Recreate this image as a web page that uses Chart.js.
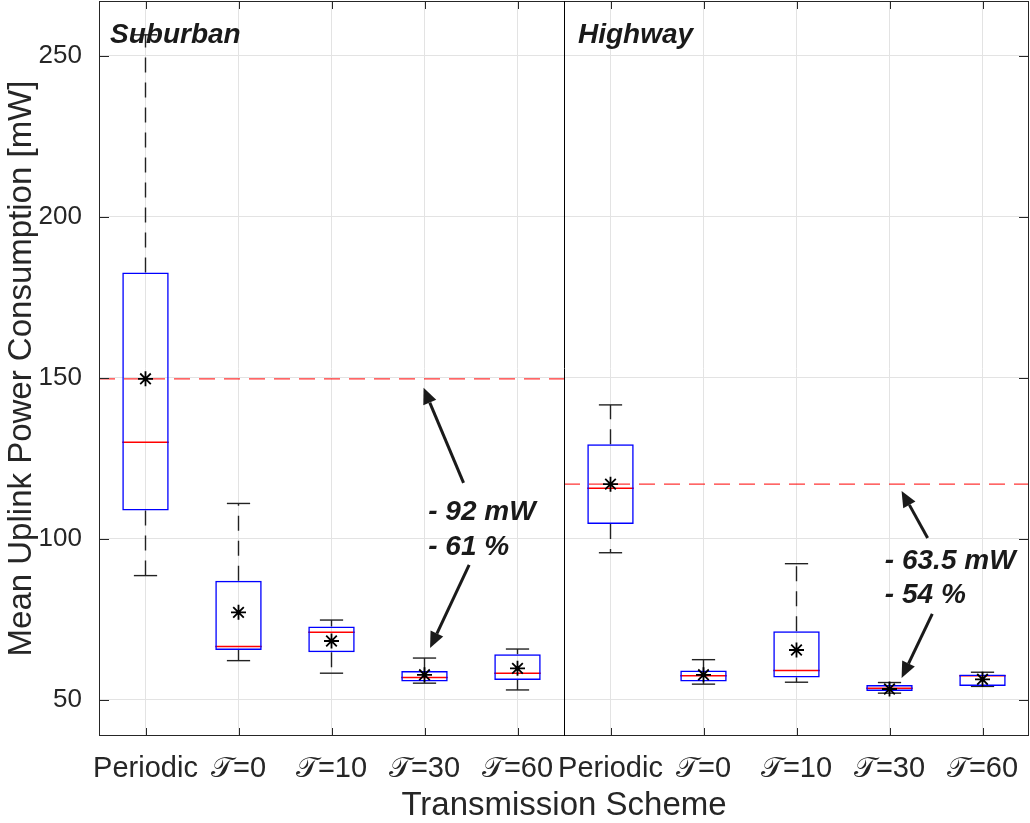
<!DOCTYPE html>
<html>
<head>
<meta charset="utf-8">
<script src="https://cdn.jsdelivr.net/npm/chart.js@4.4.1/dist/chart.umd.min.js"></script>
<style>
  html, body { margin: 0; padding: 0; background: #fff; }
  #wrap { width: 1030px; height: 823px; }
</style>
</head>
<body>
<div id="wrap"><canvas id="chart"></canvas></div>
<script>
// boxplot stats per transmission scheme (5 suburban, then 5 highway)
const categories = ["Periodic", "𝒯=0", "𝒯=10", "𝒯=30", "𝒯=60", "Periodic", "𝒯=0", "𝒯=10", "𝒯=30", "𝒯=60"]
const whiskerLow = [88.6, 62.2, 58.3, 55.2, 53.1, 95.7, 54.9, 55.5, 52.1, 54.2]
const q1 = [108.8, 65.5, 64.8, 55.7, 56.2, 104.6, 55.7, 57.0, 52.8, 54.3]
const medians = [130.0, 66.6, 71.0, 57.0, 58.3, 115.7, 57.5, 59.1, 53.6, 57.5]
const q3 = [182.7, 87.0, 72.8, 59.0, 64.2, 129.4, 59.1, 71.3, 54.6, 57.9]
const whiskerHigh = [256.5, 111.0, 74.8, 63.0, 65.8, 141.6, 62.5, 92.3, 55.4, 58.6]
const means = [149.7, 77.2, 68.3, 57.8, 59.8, 117.0, 57.8, 65.5, 53.4, 56.4]
const yTicks = [50, 100, 150, 200, 250]

const panels = ["Suburban", "Highway"]
const baselines = [149.7, 117.0]
const reductionLines = [["- 92 mW", "- 61 %"], ["- 63.5 mW", "- 54 %"]]
// text anchors and arrows in (category index, mW)
const textAnchors = [[[3.04, 108.4], [3.04, 97.5]], [[7.95, 93.2], [7.95, 82.6]]]
const arrows = [
  [[3.42, 117.4], [2.99, 146.9]],
  [[3.48, 91.9], [3.06, 66.1]],
  [[8.41, 100.3], [8.13, 114.9]],
  [[8.46, 76.7], [8.13, 56.8]],
]

const darkText = "#262626"
const sans = '"Liberation Sans", Arial, sans-serif'

function line(ctx, x1, y1, x2, y2) {
  ctx.beginPath()
  ctx.moveTo(x1, y1)
  ctx.lineTo(x2, y2)
  ctx.stroke()
}

function arrow(ctx, x1, y1, x2, y2) {
  const ang = Math.atan2(y2 - y1, x2 - x1)
  const len = 16, w = 7
  const bx = x2 - Math.cos(ang) * len, by = y2 - Math.sin(ang) * len
  ctx.lineWidth = 3
  line(ctx, x1, y1, bx, by)
  ctx.beginPath()
  ctx.moveTo(x2, y2)
  ctx.lineTo(bx + Math.sin(ang) * w, by - Math.cos(ang) * w)
  ctx.lineTo(bx - Math.sin(ang) * w, by + Math.cos(ang) * w)
  ctx.closePath()
  ctx.fill()
}

const boxExtras = {
  id: "boxExtras",
  beforeDatasetsDraw(chart) {
    const { ctx, chartArea: a, scales: { x, y } } = chart
    const step = x.getPixelForValue(1) - x.getPixelForValue(0)
    const half = step * 0.25
    const divider = (x.getPixelForValue(4) + x.getPixelForValue(5)) / 2
    ctx.save()

    // whiskers
    ctx.strokeStyle = "#222"
    ctx.lineWidth = 1.4
    categories.forEach((c, i) => {
      const cx = x.getPixelForValue(i)
      ctx.setLineDash([15, 10])
      line(ctx, cx, y.getPixelForValue(q3[i]), cx, y.getPixelForValue(whiskerHigh[i]))
      line(ctx, cx, y.getPixelForValue(q1[i]), cx, y.getPixelForValue(whiskerLow[i]))
      ctx.setLineDash([])
      line(ctx, cx - half / 2, y.getPixelForValue(whiskerHigh[i]), cx + half / 2, y.getPixelForValue(whiskerHigh[i]))
      line(ctx, cx - half / 2, y.getPixelForValue(whiskerLow[i]), cx + half / 2, y.getPixelForValue(whiskerLow[i]))
    })

    // medians
    ctx.strokeStyle = "#ff0000"
    ctx.lineWidth = 1.5
    categories.forEach((c, i) => {
      const cx = x.getPixelForValue(i)
      const my = y.getPixelForValue(medians[i])
      line(ctx, cx - half, my, cx + half, my)
    })

    // periodic baseline, one per panel
    ctx.strokeStyle = "rgba(255,0,0,0.8)"
    ctx.lineWidth = 1.3
    ctx.setLineDash([16, 9])
    line(ctx, a.left, y.getPixelForValue(baselines[0]), divider, y.getPixelForValue(baselines[0]))
    line(ctx, divider, y.getPixelForValue(baselines[1]), a.right, y.getPixelForValue(baselines[1]))
    ctx.restore()
  },
  afterDatasetsDraw(chart) {
    const { ctx, chartArea: a, scales: { x, y } } = chart
    const divider = (x.getPixelForValue(4) + x.getPixelForValue(5)) / 2
    ctx.save()

    // frame + divider
    ctx.strokeStyle = darkText
    ctx.lineWidth = 1
    ctx.strokeRect(a.left + 0.5, a.top + 0.5, a.right - a.left - 1, a.bottom - a.top - 1)
    ctx.strokeStyle = "#000"
    line(ctx, Math.round(divider) + 0.5, a.top, Math.round(divider) + 0.5, a.bottom)

    // inward ticks
    ctx.strokeStyle = darkText
    yTicks.forEach(v => {
      const py = Math.round(y.getPixelForValue(v)) + 0.5
      line(ctx, a.left, py, a.left + 10, py)
      line(ctx, a.right - 10, py, a.right, py)
    })
    categories.forEach((c, i) => {
      const px = Math.round(x.getPixelForValue(i)) + 0.5
      line(ctx, px, a.bottom, px, a.bottom - 8)
      line(ctx, px, a.top, px, a.top + 8)
    })

    // arrows and reduction labels
    ctx.fillStyle = "#1a1a1a"
    ctx.strokeStyle = "#1a1a1a"
    arrows.forEach(([from, to]) => {
      arrow(ctx, x.getPixelForValue(from[0]), y.getPixelForValue(from[1]),
        x.getPixelForValue(to[0]), y.getPixelForValue(to[1]))
    })
    ctx.font = "bold italic 28px " + sans
    ctx.textBaseline = "middle"
    ctx.textAlign = "left"
    reductionLines.forEach((lines, p) => {
      lines.forEach((t, k) => {
        const [cx, cy] = textAnchors[p][k]
        ctx.fillText(t, x.getPixelForValue(cx), y.getPixelForValue(cy))
      })
    })

    // panel names
    ctx.fillText(panels[0], a.left + 11, a.top + 34)
    ctx.fillText(panels[1], divider + 14, a.top + 34)
    ctx.restore()
  }
}

new Chart(document.getElementById("chart"), {
  type: "bar",
  data: {
    labels: categories,
    datasets: [
      {
        type: "line",
        label: "Mean",
        data: means,
        showLine: false,
        pointStyle: "star",
        pointRadius: 7.5,
        pointHoverRadius: 7.5,
        pointBorderWidth: 1.8,
        pointBorderColor: "#000",
        order: 0,
      },
      {
        label: "IQR",
        data: categories.map((c, i) => [q1[i], q3[i]]),
        backgroundColor: "rgba(0,0,0,0)",
        borderColor: "#0000ff",
        borderWidth: 1.5,
        borderSkipped: false,
        barPercentage: 0.5,
        categoryPercentage: 1,
        order: 1,
      },
    ],
  },
  options: {
    responsive: true,
    maintainAspectRatio: false,
    animation: false,
    events: [],
    layout: { autoPadding: false, padding: { top: 1, right: 1, left: 0, bottom: 0 } },
    plugins: {
      legend: { display: false },
      tooltip: { enabled: false },
    },
    scales: {
      x: {
        offset: true,
        grid: { offset: false, color: "#e3e3e3", drawTicks: false },
        border: { display: false },
        ticks: {
          autoSkip: false,
          maxRotation: 0,
          minRotation: 0,
          padding: 16,
          color: darkText,
          font: { family: sans, size: 29, lineHeight: 1.2 },
        },
        title: {
          display: true,
          text: "Transmission Scheme",
          color: darkText,
          padding: 0,
          font: { family: sans, size: 33, lineHeight: 1.03 },
        },
        afterFit(s) {
          s.height = 87
          s.paddingLeft = 0
          s.paddingRight = 0
        },
      },
      y: {
        min: 38.8,
        max: 267,
        afterBuildTicks(s) { s.ticks = yTicks.map(v => ({ value: v })) },
        grid: { color: "#e3e3e3", drawTicks: false },
        border: { display: false },
        ticks: {
          padding: 17,
          color: darkText,
          font: { family: sans, size: 26 },
        },
        title: {
          display: true,
          text: "Mean Uplink Power Consumption [mW]",
          color: darkText,
          padding: { top: 2, bottom: 0 },
          font: { family: sans, size: 33, lineHeight: 1.2 },
        },
        afterFit(s) {
          s.width = 99
          s.paddingTop = 0
          s.paddingBottom = 0
        },
      },
    },
  },
  plugins: [boxExtras],
})
</script>
</body>
</html>
